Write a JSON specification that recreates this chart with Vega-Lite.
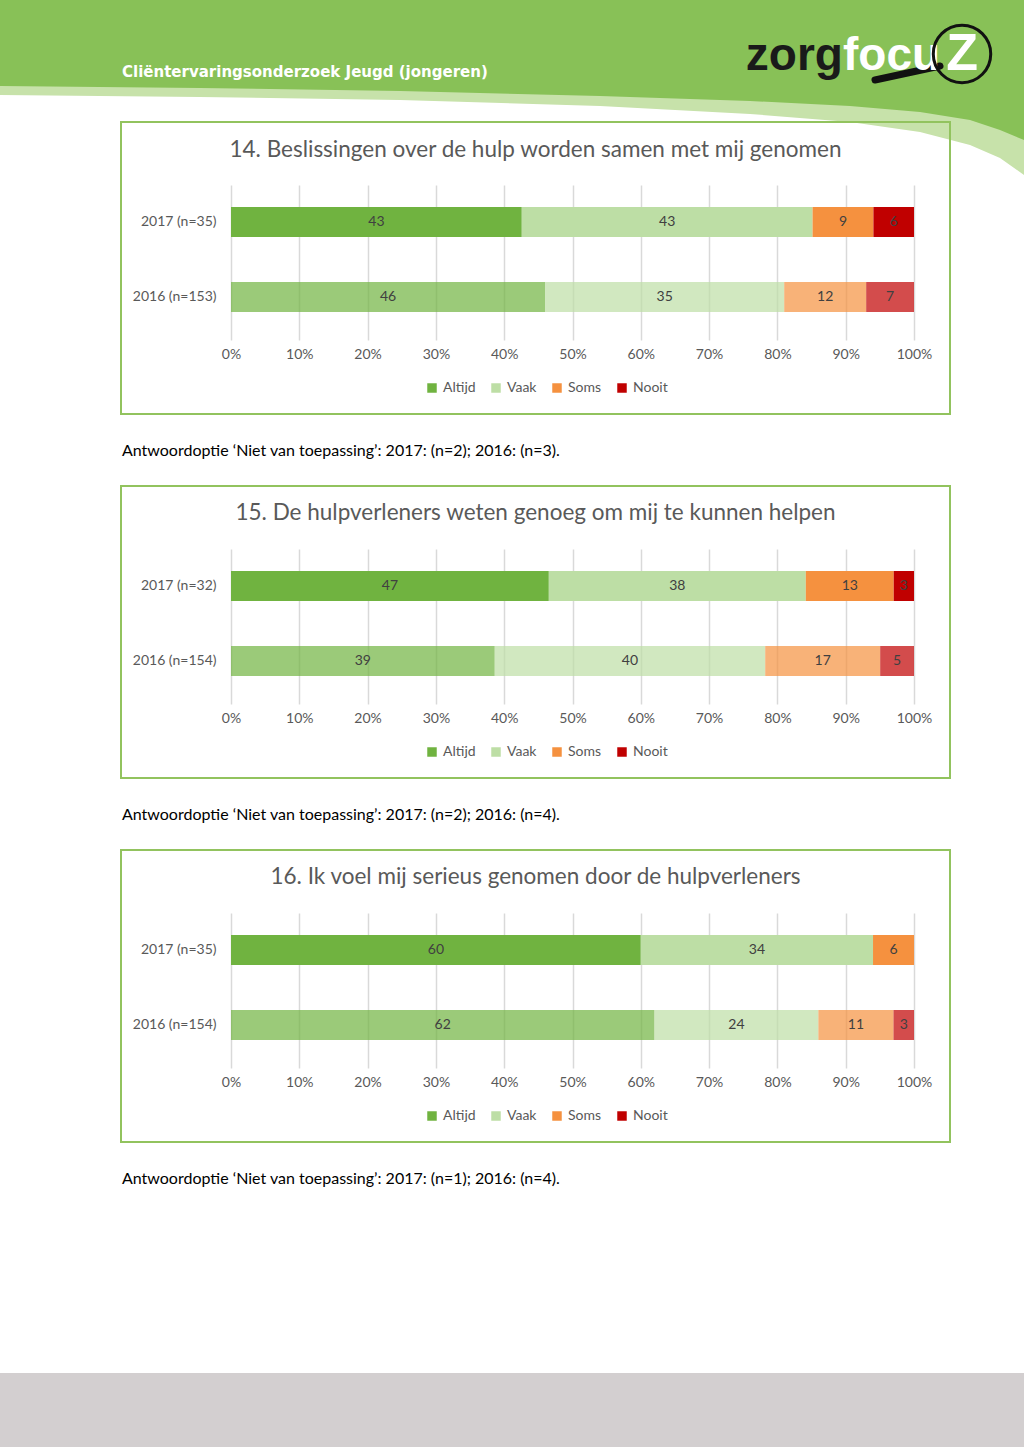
{
  "$schema": "https://vega.github.io/schema/vega-lite/v6.json",
  "padding": 0,
  "background": "white",
  "spacing": 0,
  "config": {"view": {"stroke": null}, "font": "Lato"},
  "datasets": {
    "q14": [
      {"groep": "2017 (n=35)", "jaar": "2017", "antwoord": "Altijd", "rang": 1, "pct": 43},
      {"groep": "2017 (n=35)", "jaar": "2017", "antwoord": "Vaak", "rang": 2, "pct": 43},
      {"groep": "2017 (n=35)", "jaar": "2017", "antwoord": "Soms", "rang": 3, "pct": 9},
      {"groep": "2017 (n=35)", "jaar": "2017", "antwoord": "Nooit", "rang": 4, "pct": 6},
      {"groep": "2016 (n=153)", "jaar": "2016", "antwoord": "Altijd", "rang": 1, "pct": 46},
      {"groep": "2016 (n=153)", "jaar": "2016", "antwoord": "Vaak", "rang": 2, "pct": 35},
      {"groep": "2016 (n=153)", "jaar": "2016", "antwoord": "Soms", "rang": 3, "pct": 12},
      {"groep": "2016 (n=153)", "jaar": "2016", "antwoord": "Nooit", "rang": 4, "pct": 7}
    ],
    "q15": [
      {"groep": "2017 (n=32)", "jaar": "2017", "antwoord": "Altijd", "rang": 1, "pct": 47},
      {"groep": "2017 (n=32)", "jaar": "2017", "antwoord": "Vaak", "rang": 2, "pct": 38},
      {"groep": "2017 (n=32)", "jaar": "2017", "antwoord": "Soms", "rang": 3, "pct": 13},
      {"groep": "2017 (n=32)", "jaar": "2017", "antwoord": "Nooit", "rang": 4, "pct": 3},
      {"groep": "2016 (n=154)", "jaar": "2016", "antwoord": "Altijd", "rang": 1, "pct": 39},
      {"groep": "2016 (n=154)", "jaar": "2016", "antwoord": "Vaak", "rang": 2, "pct": 40},
      {"groep": "2016 (n=154)", "jaar": "2016", "antwoord": "Soms", "rang": 3, "pct": 17},
      {"groep": "2016 (n=154)", "jaar": "2016", "antwoord": "Nooit", "rang": 4, "pct": 5}
    ],
    "q16": [
      {"groep": "2017 (n=35)", "jaar": "2017", "antwoord": "Altijd", "rang": 1, "pct": 60},
      {"groep": "2017 (n=35)", "jaar": "2017", "antwoord": "Vaak", "rang": 2, "pct": 34},
      {"groep": "2017 (n=35)", "jaar": "2017", "antwoord": "Soms", "rang": 3, "pct": 6},
      {"groep": "2016 (n=154)", "jaar": "2016", "antwoord": "Altijd", "rang": 1, "pct": 62},
      {"groep": "2016 (n=154)", "jaar": "2016", "antwoord": "Vaak", "rang": 2, "pct": 24},
      {"groep": "2016 (n=154)", "jaar": "2016", "antwoord": "Soms", "rang": 3, "pct": 11},
      {"groep": "2016 (n=154)", "jaar": "2016", "antwoord": "Nooit", "rang": 4, "pct": 3}
    ],
    "kop_licht": [
      {"x": -0.3382, "y": -0.5806}, {"x": -0.0454, "y": -0.5677}, {"x": 0.2474, "y": -0.5484},
      {"x": 0.5403, "y": -0.5097}, {"x": 0.7599, "y": -0.4581}, {"x": 0.9063, "y": -0.4065},
      {"x": 1.0088, "y": -0.3419}, {"x": 1.0820, "y": -0.2581}, {"x": 1.1259, "y": -0.1742},
      {"x": 1.1611, "y": -0.0645}
    ],
    "kop_donker": [
      {"x": -0.3382, "y": -0.6387}, {"x": -0.0454, "y": -0.6258}, {"x": 0.2474, "y": -0.6065},
      {"x": 0.5403, "y": -0.5742}, {"x": 0.7599, "y": -0.5419}, {"x": 0.9063, "y": -0.5097},
      {"x": 1.0088, "y": -0.4710}, {"x": 1.0820, "y": -0.4194}, {"x": 1.1259, "y": -0.3548},
      {"x": 1.1611, "y": -0.2903}
    ]
  },
  "resolve": {
    "scale": {"x": "independent", "y": "independent", "color": "independent", "opacity": "independent"},
    "legend": {"color": "independent"}
  },
  "vconcat": [
    {
      "width": 683,
      "height": 155,
      "title": {"text": "14. Beslissingen over de hulp worden samen met mij genomen", "anchor": "middle", "frame": "group", "dx": -37, "offset": -172, "baseline": "middle", "fontSize": 22.5, "font": "Lato", "fontWeight": "normal", "color": "#595959"},
      "resolve": {"scale": {"y": "independent"}},
      "layer": [
        {
          "data": {"name": "q14"},
          "encoding": {
            "y": {"field": "groep", "type": "nominal", "sort": "descending", "title": null,
              "scale": {"paddingInner": 0.6, "paddingOuter": 0.3333, "align": 0.44},
              "axis": {"domain": false, "ticks": false, "labelPadding": 15, "labelFontSize": 14, "labelColor": "#595959", "labelFont": "Lato"}}
          },
          "layer": [
            {
              "mark": {"type": "bar"},
              "encoding": {
                "x": {"field": "pct", "type": "quantitative", "stack": "normalize", "title": null,
                  "scale": {"domain": [0, 1], "nice": false, "zero": false},
                  "axis": {"values": [0, 0.1, 0.2, 0.3, 0.4, 0.5, 0.6, 0.7, 0.8, 0.9, 1], "format": ".0%", "domain": false, "ticks": false, "labelFlush": false, "labelOverlap": false, "labelPadding": 7, "labelFontSize": 14, "labelColor": "#595959", "labelFont": "Lato", "grid": true, "gridColor": "#d9d9d9", "gridWidth": 1.5}},
                "color": {"field": "antwoord", "type": "nominal",
                  "scale": {"domain": ["Altijd", "Vaak", "Soms", "Nooit"], "range": ["#70b340", "#bddea5", "#f5913f", "#c00000"]},
                  "legend": {"orient": "none", "legendX": 194, "legendY": 196, "direction": "horizontal", "title": null, "symbolType": "square", "symbolSize": 90, "labelFontSize": 14, "labelColor": "#595959", "labelFont": "Lato", "columnPadding": 13, "labelOffset": 4}},
                "opacity": {"field": "jaar", "type": "ordinal", "scale": {"domain": ["2017", "2016"], "range": [1, 0.7]}, "legend": null},
                "order": {"field": "rang", "type": "quantitative", "sort": "ascending"}
              }
            },
            {
              "mark": {"type": "text", "fontSize": 14, "color": "#404040", "font": "Lato", "baseline": "middle", "align": "center"},
              "encoding": {
                "x": {"field": "pct", "type": "quantitative", "stack": "normalize", "bandPosition": 0.5, "title": null, "scale": {"domain": [0, 1], "nice": false, "zero": false}},
                "text": {"field": "pct", "type": "quantitative"},
                "detail": {"field": "antwoord"},
                "order": {"field": "rang", "type": "quantitative", "sort": "ascending"}
              }
            }
          ]
        },
        {
          "data": {"values": [{}]},
          "mark": {"type": "rect", "opacity": 0},
          "encoding": {
            "x": {"datum": -0.3382, "type": "quantitative", "title": null, "scale": {"domain": [0, 1], "nice": false, "zero": false}},
            "x2": {"datum": 1.1611},
            "y": {"datum": -1.1935, "type": "quantitative", "axis": null, "scale": {"domain": [0, 1], "reverse": true, "nice": false, "zero": false}},
            "y2": {"datum": 1.7871}
          }
        },
        {
          "data": {"name": "kop_licht"},
          "mark": {"type": "area", "color": "#c7e2aa"},
          "encoding": {
            "x": {"field": "x", "type": "quantitative", "title": null, "scale": {"domain": [0, 1], "nice": false, "zero": false}},
            "y": {"field": "y", "type": "quantitative", "axis": null, "scale": {"domain": [0, 1], "reverse": true, "nice": false, "zero": false}},
            "y2": {"datum": -1.1935}
          }
        },
        {
          "data": {"name": "kop_donker"},
          "mark": {"type": "area", "color": "#88c157"},
          "encoding": {
            "x": {"field": "x", "type": "quantitative", "title": null, "scale": {"domain": [0, 1], "nice": false, "zero": false}},
            "y": {"field": "y", "type": "quantitative", "axis": null, "scale": {"domain": [0, 1], "reverse": true, "nice": false, "zero": false}},
            "y2": {"datum": -1.1935}
          }
        },
        {
          "data": {"values": [{}]},
          "mark": {"type": "text", "text": "Cliëntervaringsonderzoek Jeugd (jongeren)", "font": "Liberation Sans Narrow, DejaVu Sans Condensed, sans-serif", "fontWeight": "bold", "fontSize": 16.7, "color": "white", "align": "left", "baseline": "alphabetic"},
          "encoding": {
            "x": {"datum": -0.1596, "type": "quantitative", "title": null, "scale": {"domain": [0, 1], "nice": false, "zero": false}},
            "y": {"datum": -0.6968, "type": "quantitative", "axis": null, "scale": {"domain": [0, 1], "reverse": true, "nice": false, "zero": false}}
          }
        },
        {
          "data": {"values": [{}]},
          "mark": {"type": "rule", "color": "#111111", "strokeWidth": 7, "strokeCap": "round"},
          "encoding": {
            "x": {"datum": 0.9429, "type": "quantitative", "title": null, "scale": {"domain": [0, 1], "nice": false, "zero": false}},
            "x2": {"datum": 1.0381},
            "y": {"datum": -0.6774, "type": "quantitative", "axis": null, "scale": {"domain": [0, 1], "reverse": true, "nice": false, "zero": false}},
            "y2": {"datum": -0.7677}
          }
        },
        {
          "data": {"values": [{}]},
          "mark": {"type": "text", "text": "zorg", "font": "Liberation Sans", "fontWeight": "bold", "fontSize": 46, "color": "#1a1a1a", "align": "right", "baseline": "alphabetic"},
          "encoding": {
            "x": {"datum": 0.896, "type": "quantitative", "title": null, "scale": {"domain": [0, 1], "nice": false, "zero": false}},
            "y": {"datum": -0.7419, "type": "quantitative", "axis": null, "scale": {"domain": [0, 1], "reverse": true, "nice": false, "zero": false}}
          }
        },
        {
          "data": {"values": [{}]},
          "mark": {"type": "text", "text": "focu", "font": "Liberation Sans", "fontWeight": "bold", "fontSize": 46, "color": "white", "align": "left", "baseline": "alphabetic"},
          "encoding": {
            "x": {"datum": 0.896, "type": "quantitative", "title": null, "scale": {"domain": [0, 1], "nice": false, "zero": false}},
            "y": {"datum": -0.7419, "type": "quantitative", "axis": null, "scale": {"domain": [0, 1], "reverse": true, "nice": false, "zero": false}}
          }
        },
        {
          "data": {"values": [{}]},
          "mark": {"type": "point", "shape": "circle", "size": 3300, "filled": false, "color": "#111111", "strokeWidth": 3, "opacity": 1},
          "encoding": {
            "x": {"datum": 1.0703, "type": "quantitative", "title": null, "scale": {"domain": [0, 1], "nice": false, "zero": false}},
            "y": {"datum": -0.8452, "type": "quantitative", "axis": null, "scale": {"domain": [0, 1], "reverse": true, "nice": false, "zero": false}}
          }
        },
        {
          "data": {"values": [{}]},
          "mark": {"type": "text", "text": "Z", "font": "Liberation Sans", "fontWeight": "bold", "fontSize": 52, "color": "white", "align": "center", "baseline": "middle"},
          "encoding": {
            "x": {"datum": 1.0703, "type": "quantitative", "title": null, "scale": {"domain": [0, 1], "nice": false, "zero": false}},
            "y": {"datum": -0.8452, "type": "quantitative", "axis": null, "scale": {"domain": [0, 1], "reverse": true, "nice": false, "zero": false}}
          }
        },
        {
          "data": {"values": [{}]},
          "mark": {"type": "rect", "filled": false, "color": "#92c35e", "strokeWidth": 2},
          "encoding": {
            "x": {"datum": -0.16105, "type": "quantitative", "title": null, "scale": {"domain": [0, 1], "nice": false, "zero": false}},
            "x2": {"datum": 1.05271},
            "y": {"datum": -0.40645, "type": "quantitative", "axis": null, "scale": {"domain": [0, 1], "reverse": true, "nice": false, "zero": false}},
            "y2": {"datum": 1.47742}
          }
        },
        {
          "data": {"values": [{}]},
          "mark": {"type": "text", "text": "Antwoordoptie ‘Niet van toepassing’: 2017: (n=2); 2016: (n=3).", "font": "Lato", "fontSize": 16, "color": "#000000", "align": "left", "baseline": "middle"},
          "encoding": {
            "x": {"datum": -0.1596, "type": "quantitative", "title": null, "scale": {"domain": [0, 1], "nice": false, "zero": false}},
            "y": {"datum": 1.716, "type": "quantitative", "axis": null, "scale": {"domain": [0, 1], "reverse": true, "nice": false, "zero": false}}
          }
        }
      ]
    },
    {
      "width": 683,
      "height": 155,
      "title": {"text": "15. De hulpverleners weten genoeg om mij te kunnen helpen", "anchor": "middle", "frame": "group", "dx": -37, "offset": -72, "baseline": "middle", "fontSize": 22.5, "font": "Lato", "fontWeight": "normal", "color": "#595959"},
      "resolve": {"scale": {"y": "independent"}},
      "layer": [
        {
          "data": {"name": "q15"},
          "encoding": {
            "y": {"field": "groep", "type": "nominal", "sort": "descending", "title": null,
              "scale": {"paddingInner": 0.6, "paddingOuter": 0.3333, "align": 0.44},
              "axis": {"domain": false, "ticks": false, "labelPadding": 15, "labelFontSize": 14, "labelColor": "#595959", "labelFont": "Lato"}}
          },
          "layer": [
            {
              "mark": {"type": "bar"},
              "encoding": {
                "x": {"field": "pct", "type": "quantitative", "stack": "normalize", "title": null,
                  "scale": {"domain": [0, 1], "nice": false, "zero": false},
                  "axis": {"values": [0, 0.1, 0.2, 0.3, 0.4, 0.5, 0.6, 0.7, 0.8, 0.9, 1], "format": ".0%", "domain": false, "ticks": false, "labelFlush": false, "labelOverlap": false, "labelPadding": 7, "labelFontSize": 14, "labelColor": "#595959", "labelFont": "Lato", "grid": true, "gridColor": "#d9d9d9", "gridWidth": 1.5}},
                "color": {"field": "antwoord", "type": "nominal",
                  "scale": {"domain": ["Altijd", "Vaak", "Soms", "Nooit"], "range": ["#70b340", "#bddea5", "#f5913f", "#c00000"]},
                  "legend": {"orient": "none", "legendX": 194, "legendY": 196, "direction": "horizontal", "title": null, "symbolType": "square", "symbolSize": 90, "labelFontSize": 14, "labelColor": "#595959", "labelFont": "Lato", "columnPadding": 13, "labelOffset": 4}},
                "opacity": {"field": "jaar", "type": "ordinal", "scale": {"domain": ["2017", "2016"], "range": [1, 0.7]}, "legend": null},
                "order": {"field": "rang", "type": "quantitative", "sort": "ascending"}
              }
            },
            {
              "mark": {"type": "text", "fontSize": 14, "color": "#404040", "font": "Lato", "baseline": "middle", "align": "center"},
              "encoding": {
                "x": {"field": "pct", "type": "quantitative", "stack": "normalize", "bandPosition": 0.5, "title": null, "scale": {"domain": [0, 1], "nice": false, "zero": false}},
                "text": {"field": "pct", "type": "quantitative"},
                "detail": {"field": "antwoord"},
                "order": {"field": "rang", "type": "quantitative", "sort": "ascending"}
              }
            }
          ]
        },
        {
          "data": {"values": [{}]},
          "mark": {"type": "rect", "opacity": 0},
          "encoding": {
            "x": {"datum": -0.3382, "type": "quantitative", "title": null, "scale": {"domain": [0, 1], "nice": false, "zero": false}},
            "x2": {"datum": 1.1611},
            "y": {"datum": -0.54839, "type": "quantitative", "axis": null, "scale": {"domain": [0, 1], "reverse": true, "nice": false, "zero": false}},
            "y2": {"datum": 1.7871}
          }
        },
        {
          "data": {"values": [{}]},
          "mark": {"type": "rect", "filled": false, "color": "#92c35e", "strokeWidth": 2},
          "encoding": {
            "x": {"datum": -0.16105, "type": "quantitative", "title": null, "scale": {"domain": [0, 1], "nice": false, "zero": false}},
            "x2": {"datum": 1.05271},
            "y": {"datum": -0.40645, "type": "quantitative", "axis": null, "scale": {"domain": [0, 1], "reverse": true, "nice": false, "zero": false}},
            "y2": {"datum": 1.47742}
          }
        },
        {
          "data": {"values": [{}]},
          "mark": {"type": "text", "text": "Antwoordoptie ‘Niet van toepassing’: 2017: (n=2); 2016: (n=4).", "font": "Lato", "fontSize": 16, "color": "#000000", "align": "left", "baseline": "middle"},
          "encoding": {
            "x": {"datum": -0.1596, "type": "quantitative", "title": null, "scale": {"domain": [0, 1], "nice": false, "zero": false}},
            "y": {"datum": 1.716, "type": "quantitative", "axis": null, "scale": {"domain": [0, 1], "reverse": true, "nice": false, "zero": false}}
          }
        }
      ]
    },
    {
      "width": 683,
      "height": 155,
      "title": {"text": "16. Ik voel mij serieus genomen door de hulpverleners", "anchor": "middle", "frame": "group", "dx": -37, "offset": -72, "baseline": "middle", "fontSize": 22.5, "font": "Lato", "fontWeight": "normal", "color": "#595959"},
      "resolve": {"scale": {"y": "independent"}},
      "layer": [
        {
          "data": {"name": "q16"},
          "encoding": {
            "y": {"field": "groep", "type": "nominal", "sort": "descending", "title": null,
              "scale": {"paddingInner": 0.6, "paddingOuter": 0.3333, "align": 0.44},
              "axis": {"domain": false, "ticks": false, "labelPadding": 15, "labelFontSize": 14, "labelColor": "#595959", "labelFont": "Lato"}}
          },
          "layer": [
            {
              "mark": {"type": "bar"},
              "encoding": {
                "x": {"field": "pct", "type": "quantitative", "stack": "normalize", "title": null,
                  "scale": {"domain": [0, 1], "nice": false, "zero": false},
                  "axis": {"values": [0, 0.1, 0.2, 0.3, 0.4, 0.5, 0.6, 0.7, 0.8, 0.9, 1], "format": ".0%", "domain": false, "ticks": false, "labelFlush": false, "labelOverlap": false, "labelPadding": 7, "labelFontSize": 14, "labelColor": "#595959", "labelFont": "Lato", "grid": true, "gridColor": "#d9d9d9", "gridWidth": 1.5}},
                "color": {"field": "antwoord", "type": "nominal",
                  "scale": {"domain": ["Altijd", "Vaak", "Soms", "Nooit"], "range": ["#70b340", "#bddea5", "#f5913f", "#c00000"]},
                  "legend": {"orient": "none", "legendX": 194, "legendY": 196, "direction": "horizontal", "title": null, "symbolType": "square", "symbolSize": 90, "labelFontSize": 14, "labelColor": "#595959", "labelFont": "Lato", "columnPadding": 13, "labelOffset": 4}},
                "opacity": {"field": "jaar", "type": "ordinal", "scale": {"domain": ["2017", "2016"], "range": [1, 0.7]}, "legend": null},
                "order": {"field": "rang", "type": "quantitative", "sort": "ascending"}
              }
            },
            {
              "mark": {"type": "text", "fontSize": 14, "color": "#404040", "font": "Lato", "baseline": "middle", "align": "center"},
              "encoding": {
                "x": {"field": "pct", "type": "quantitative", "stack": "normalize", "bandPosition": 0.5, "title": null, "scale": {"domain": [0, 1], "nice": false, "zero": false}},
                "text": {"field": "pct", "type": "quantitative"},
                "detail": {"field": "antwoord"},
                "order": {"field": "rang", "type": "quantitative", "sort": "ascending"}
              }
            }
          ]
        },
        {
          "data": {"values": [{}]},
          "mark": {"type": "rect", "opacity": 0},
          "encoding": {
            "x": {"datum": -0.3382, "type": "quantitative", "title": null, "scale": {"domain": [0, 1], "nice": false, "zero": false}},
            "x2": {"datum": 1.1611},
            "y": {"datum": -0.54839, "type": "quantitative", "axis": null, "scale": {"domain": [0, 1], "reverse": true, "nice": false, "zero": false}},
            "y2": {"datum": 3.45161}
          }
        },
        {
          "data": {"values": [{}]},
          "mark": {"type": "rect", "color": "#d3cfd0"},
          "encoding": {
            "x": {"datum": -0.3382, "type": "quantitative", "title": null, "scale": {"domain": [0, 1], "nice": false, "zero": false}},
            "x2": {"datum": 1.1611},
            "y": {"datum": 2.9677, "type": "quantitative", "axis": null, "scale": {"domain": [0, 1], "reverse": true, "nice": false, "zero": false}},
            "y2": {"datum": 3.45161}
          }
        },
        {
          "data": {"values": [{}]},
          "mark": {"type": "rect", "filled": false, "color": "#92c35e", "strokeWidth": 2},
          "encoding": {
            "x": {"datum": -0.16105, "type": "quantitative", "title": null, "scale": {"domain": [0, 1], "nice": false, "zero": false}},
            "x2": {"datum": 1.05271},
            "y": {"datum": -0.40645, "type": "quantitative", "axis": null, "scale": {"domain": [0, 1], "reverse": true, "nice": false, "zero": false}},
            "y2": {"datum": 1.47742}
          }
        },
        {
          "data": {"values": [{}]},
          "mark": {"type": "text", "text": "Antwoordoptie ‘Niet van toepassing’: 2017: (n=1); 2016: (n=4).", "font": "Lato", "fontSize": 16, "color": "#000000", "align": "left", "baseline": "middle"},
          "encoding": {
            "x": {"datum": -0.1596, "type": "quantitative", "title": null, "scale": {"domain": [0, 1], "nice": false, "zero": false}},
            "y": {"datum": 1.716, "type": "quantitative", "axis": null, "scale": {"domain": [0, 1], "reverse": true, "nice": false, "zero": false}}
          }
        }
      ]
    }
  ]
}
